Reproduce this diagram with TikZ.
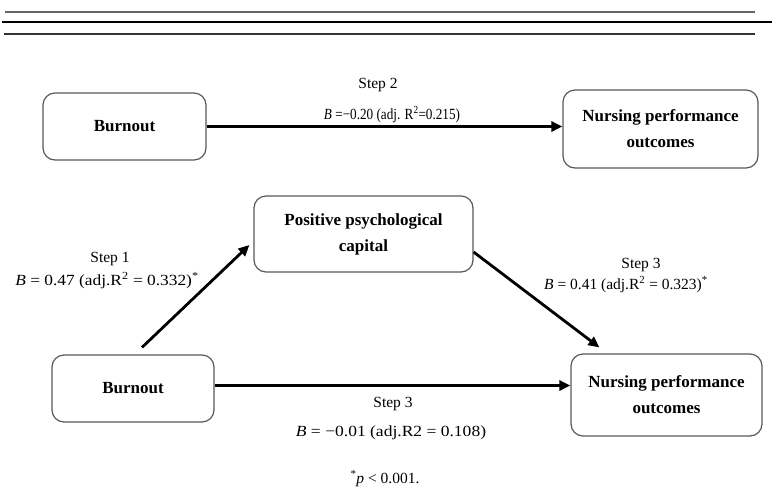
\documentclass[tikz,border=0pt]{standalone}
\usepackage{fontspec}
\setmainfont{Liberation Serif}
\usetikzlibrary{arrows.meta,positioning}

\tikzset{
  block/.style={draw=black!65, line width=1.2pt, rounded corners=12pt, fill=white,
    align=center, inner sep=4pt, font=\fontsize{17}{26}\selectfont\bfseries},
  link/.style={line width=2.8pt, -{Triangle[length=11pt,width=10pt]}},
  coef/.style={anchor=base, inner sep=1pt, font=\fontsize{15.5}{19}\selectfont},
}

\begin{document}
\begin{tikzpicture}[x=1pt,y=-1pt]
\useasboundingbox (0,0) rectangle (772,491);
% rules above the figure
\draw[black!60, line width=1.4pt] (5,12) -- (755,12);
\draw[line width=1.5pt] (2,22) -- (772,22);
\draw[black!80, line width=1.4pt] (4,34) -- (755,34);

% total effect
\node[block, minimum width=163pt, minimum height=67pt] (burnA) at (124.5,126.5) {Burnout};
\node[block, minimum width=195pt, minimum height=78pt] (nursA) at (660.5,129) {Nursing performance\\outcomes};
\draw[link] (burnA.east) -- (burnA.east -| nursA.west);
\node[coef] (stepTwo) at (378,88) {Step 2};
\node[coef] (coefTwo) at (392,119) {\scalebox{0.85}[1]{\textit{B} =−0.20 (adj. R\textsuperscript{2}=0.215)}};

% mediation
\node[block, minimum width=219pt, minimum height=76pt] (capital) at (363.5,234) {Positive psychological\\capital};
\node[block, minimum width=162pt, minimum height=67pt] (burnB) at (133,388.5) {Burnout};
\node[block, minimum width=191pt, minimum height=82pt] (nursB) at (666.5,395) {Nursing performance\\outcomes};
\draw[link] ([xshift=9pt,yshift=7pt]burnB.north) -- ([xshift=-4pt,yshift=-11pt]capital.west);
\draw[link] ([yshift=-18pt]capital.east) -- ([xshift=29pt,yshift=6pt]nursB.north west);
\draw[link] ([yshift=3pt]burnB.east) -- ([yshift=3pt]burnB.east -| nursB.west);

\node[coef] (stepOne) at (110,262) {Step 1};
\node[coef] (coefOne) at (107,285) {\scalebox{1.12}[1]{\textit{B} = 0.47 (adj.R\textsuperscript{2} = 0.332)\textsuperscript{*}}};
\node[coef] (stepThreeA) at (641,268) {Step 3};
\node[coef] (coefThreeA) at (626,289) {\textit{B} = 0.41 (adj.R\textsuperscript{2} = 0.323)\textsuperscript{*}};
\node[coef] (stepThreeB) at (393,407) {Step 3};
\node[coef] (coefThreeB) at (391,436) {\scalebox{1.13}[1]{\textit{B} = −0.01 (adj.R2 = 0.108)}};

\node[coef] (note) at (385,483) {\textsuperscript{*}\textit{p} < 0.001.};
\end{tikzpicture}
\end{document}
